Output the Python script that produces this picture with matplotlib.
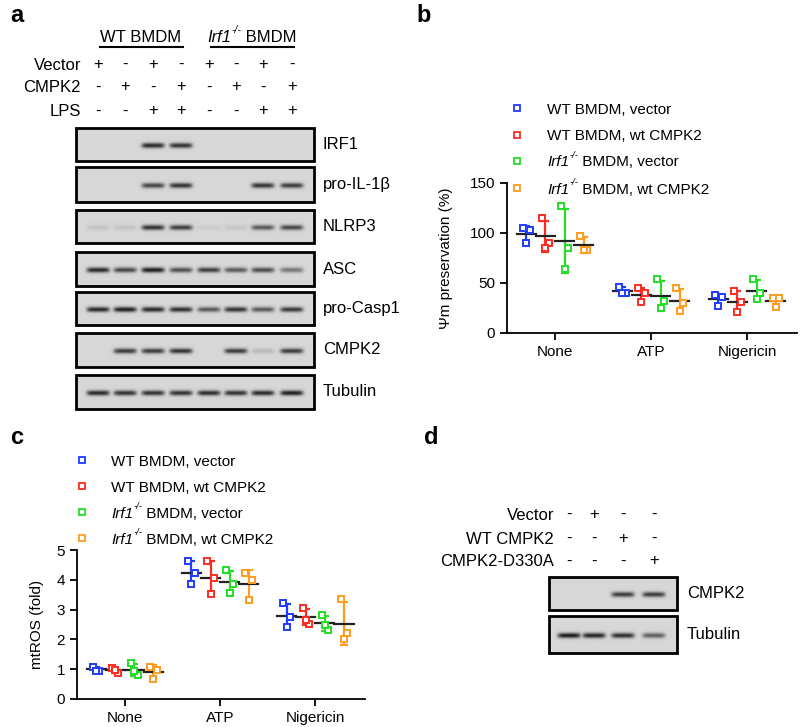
import numpy as np
import matplotlib
matplotlib.use('Agg')
import matplotlib.pyplot as plt

plt.rcParams['font.family'] = ['Liberation Sans', 'DejaVu Sans']

# ---------------- data ----------------
treatments = ['None', 'ATP', 'Nigericin']
group_labels = ['WT BMDM, vector', 'WT BMDM, wt CMPK2',
                'Irf1-/- BMDM, vector', 'Irf1-/- BMDM, wt CMPK2']
colors = ['#1f3cff', '#ff2b1f', '#26dd26', '#ff9c1f']

# panel b: Psi m preservation (%)  [treatment][replicate]
psi_wt_vec = [[105, 103, 90], [46.3, 40.3, 40.3], [38, 35.7, 27.3]]
psi_wt_cmpk2 = [[114.7, 90, 85], [44.7, 39.7, 30.7], [42.3, 30.7, 21.3]]
psi_ko_vec = [[127, 85.3, 64], [53.7, 32.3, 25.3], [53.7, 39.7, 33.7]]
psi_ko_cmpk2 = [[97, 83, 83], [44.7, 29.7, 22.3], [34.7, 34.7, 26.3]]

# panel c: mtROS (fold)
ros_wt_vec = [[1.09, 0.95, 0.95], [4.64, 4.22, 3.85], [3.21, 2.75, 2.41]]
ros_wt_cmpk2 = [[1.04, 0.87, 0.98], [4.64, 4.05, 3.53], [3.05, 2.52, 2.66]]
ros_ko_vec = [[1.20, 0.81, 0.93], [4.33, 3.85, 3.55], [2.82, 2.32, 2.48]]
ros_ko_cmpk2 = [[1.09, 0.98, 0.67], [4.22, 4.00, 3.33], [3.35, 2.21, 2.02]]

# panel a: western blot band intensities (0..1) per lane
blot_a_proteins = ['IRF1', 'pro-IL-1β', 'NLRP3', 'ASC', 'pro-Casp1', 'CMPK2', 'Tubulin']
blot_a_bands = [
    [0, 0, 0.90, 0.85, 0, 0, 0, 0],
    [0, 0, 0.75, 0.85, 0, 0, 0.85, 0.80],
    [0.10, 0.10, 0.85, 0.80, 0.06, 0.08, 0.65, 0.75],
    [0.90, 0.75, 0.97, 0.70, 0.80, 0.65, 0.72, 0.50],
    [0.90, 0.95, 0.90, 0.88, 0.65, 0.85, 0.65, 0.82],
    [0, 0.80, 0.80, 0.85, 0, 0.80, 0.15, 0.80],
    [0.90, 0.85, 0.85, 0.85, 0.88, 0.85, 0.90, 0.95],
]
blot_a_groups = ['WT BMDM', 'Irf1-/- BMDM']
blot_a_vector = ['+', '-', '+', '-', '+', '-', '+', '-']
blot_a_cmpk2 = ['-', '+', '-', '+', '-', '+', '-', '+']
blot_a_lps = ['-', '-', '+', '+', '-', '-', '+', '+']

# panel d
blot_d_proteins = ['CMPK2', 'Tubulin']
blot_d_bands = [[0, 0, 0.80, 0.80], [0.97, 0.92, 0.88, 0.62]]
blot_d_vector = ['-', '+', '-', '-']
blot_d_wt = ['-', '-', '+', '-']
blot_d_mut = ['-', '-', '-', '+']

# ---------------- figure ----------------
W, H = 800, 727
fig = plt.figure(figsize=(W / 100, H / 100), dpi=100)
ov = fig.add_axes([0, 0, 1, 1], zorder=0)
ov.set_xlim(0, W)
ov.set_ylim(H, 0)
ov.axis('off')
ov.patch.set_alpha(0)
renderer = fig.canvas.get_renderer()

FS = 12


def rich_text(x, y, label, fs, ha='left'):
    """Draw label; a leading 'Irf1-/-' is set as italic gene name with superscript."""
    fs_px = fs * 100 / 72
    if label.startswith('Irf1-/-'):
        parts = [('Irf1', 'italic', fs, 0.0, 0.5),
                 ('-/-', 'italic', fs * 0.62, -0.42 * fs_px, 0.0),
                 (label[len('Irf1-/-'):], 'normal', fs, 0.0, 0.0)]
    else:
        parts = [(label, 'normal', fs, 0.0, 0.0)]
    objs = []
    for txt, st, size, dy, gap in parts:
        t = ov.text(0, y + dy, txt, fontsize=size, style=st, ha='left',
                    va='center_baseline')
        objs.append((t, gap))
    widths = [t.get_window_extent(renderer).width + gap for t, gap in objs]
    total = sum(widths)
    cx = x - total / 2 if ha == 'center' else x
    for (t, gap), w in zip(objs, widths):
        t.set_x(cx)
        cx += w


def draw_blot(x0, x1, y0, y1, lanes_x, bands):
    w = int(round(x1 - x0)) * 2
    h = int(round(y1 - y0)) * 2
    xs = np.linspace(x0, x1, w)
    ys = np.linspace(y0, y1, h)
    X, Y = np.meshgrid(xs, ys)
    yc = (y0 + y1) / 2 + 1
    dark = np.zeros_like(X)
    for lx, b in zip(lanes_x, bands):
        prof = np.exp(-((X - lx) / 11.5) ** 6) * np.exp(-((Y - yc) / 2.6) ** 2)
        dark = np.maximum(dark, b * prof)
    img = 0.84 - 0.76 * dark
    ov.imshow(img, cmap='gray', vmin=0, vmax=1, extent=[x0, x1, y1, y0],
              aspect='auto', interpolation='bilinear', zorder=1)
    ov.add_patch(plt.Rectangle((x0, y0), x1 - x0, y1 - y0, fill=False,
                               edgecolor='black', lw=2.0, zorder=2))


# ----- panel a -----
ov.text(10, 16, 'a', fontsize=17, fontweight='bold', ha='left', va='center')
lanes_a = [98, 125, 153, 181, 209, 236, 263, 292]
rich_text(141, 36, blot_a_groups[0], FS, ha='center')
ov.plot([100, 183], [47, 47], color='black', lw=1.5)
rich_text(252, 36, blot_a_groups[1], FS, ha='center')
ov.plot([211, 294], [47, 47], color='black', lw=1.5)
for lab, signs, yy in [('Vector', blot_a_vector, 65), ('CMPK2', blot_a_cmpk2, 88),
                       ('LPS', blot_a_lps, 112)]:
    ov.text(81, yy, lab, fontsize=FS, ha='right', va='center')
    for lx, s in zip(lanes_a, signs):
        ov.text(lx, yy - 1, s, fontsize=FS, ha='center', va='center')

boxes_a = [(128, 161), (167, 202), (210, 243), (252, 286), (292, 325), (333, 367), (375, 409)]
for (y0, y1), name, bands in zip(boxes_a, blot_a_proteins, blot_a_bands):
    draw_blot(76, 314, y0, y1, lanes_a, bands)
    ov.text(323, (y0 + y1) / 2, name, fontsize=FS, ha='left', va='center')

# ----- panel d -----
ov.text(424, 437, 'd', fontsize=17, fontweight='bold', ha='left', va='center')
lanes_d = [569, 594, 623, 654]
for lab, signs, yy in [('Vector', blot_d_vector, 515), ('WT CMPK2', blot_d_wt, 539),
                       ('CMPK2-D330A', blot_d_mut, 562)]:
    ov.text(554, yy, lab, fontsize=FS, ha='right', va='center')
    for lx, s in zip(lanes_d, signs):
        ov.text(lx, yy - 1, s, fontsize=FS, ha='center', va='center')
boxes_d = [(577, 610), (616, 653)]
for (y0, y1), name, bands in zip(boxes_d, blot_d_proteins, blot_d_bands):
    draw_blot(549, 677, y0, y1, lanes_d, bands)
    ov.text(687, (y0 + y1) / 2, name, fontsize=FS, ha='left', va='center')


# ----- legends (b, c) -----
def draw_legend(xm, xt, ys):
    for lab, col, yy in zip(group_labels, colors, ys):
        ov.plot([xm], [yy], marker='s', ms=4.5, mfc='white', mec=col, mew=1.3, ls='none')
        rich_text(xt, yy, lab, 11)


ov.text(416, 16, 'b', fontsize=17, fontweight='bold', ha='left', va='center')
draw_legend(517, 547, [108, 135, 161, 188])
ov.text(10, 437, 'c', fontsize=17, fontweight='bold', ha='left', va='center')
draw_legend(82, 111, [460, 486, 512, 538])

# ----- scatter panels -----
offsets = [-0.3, -0.1, 0.1, 0.3]
jit = [-0.035, 0.035, 0.0]


def scatter_panel(ax, series, ylim, yticks, ylabel):
    xc = np.arange(len(treatments))
    for gi, (vals, col) in enumerate(zip(series, colors)):
        for ti, reps in enumerate(vals):
            reps = np.asarray(reps, dtype=float)
            x = xc[ti] + offsets[gi]
            m = reps.mean()
            sd = reps.std(ddof=1)
            ax.errorbar([x], [m], yerr=[[sd], [sd]], fmt='none', ecolor=col,
                        elinewidth=1.6, capsize=3.2, capthick=1.6, zorder=2)
            ax.plot([x - 0.1, x + 0.1], [m, m], color='#222222', lw=1.6, zorder=3)
            ax.plot(x + np.array(jit), reps, ls='none', marker='s', ms=5,
                    mfc='white', mec=col, mew=1.4, zorder=4)
    ax.set_xlim(-0.5, 2.52)
    ax.set_ylim(*ylim)
    ax.set_yticks(yticks)
    ax.set_xticks(xc)
    ax.set_xticklabels(treatments, fontsize=11)
    ax.tick_params(axis='y', labelsize=11)
    ax.tick_params(direction='out', length=5, width=1.3)
    for s in ['top', 'right']:
        ax.spines[s].set_visible(False)
    for s in ['left', 'bottom']:
        ax.spines[s].set_linewidth(1.3)
    ax.set_ylabel(ylabel, fontsize=11)
    ax.patch.set_alpha(0)


axb = fig.add_axes([507 / W, 1 - 333 / H, 290 / W, 150 / H], zorder=2)
scatter_panel(axb, [psi_wt_vec, psi_wt_cmpk2, psi_ko_vec, psi_ko_cmpk2],
              (0, 150), [0, 50, 100, 150], 'Ψm preservation (%)')
axb.yaxis.set_label_coords(-0.185, 0.5)

axc = fig.add_axes([77 / W, 1 - 699 / H, 288 / W, 149 / H], zorder=2)
scatter_panel(axc, [ros_wt_vec, ros_wt_cmpk2, ros_ko_vec, ros_ko_cmpk2],
              (0, 5), [0, 1, 2, 3, 4, 5], 'mtROS (fold)')
axc.yaxis.set_label_coords(-0.115, 0.5)

fig.savefig('out.png', dpi=100)
